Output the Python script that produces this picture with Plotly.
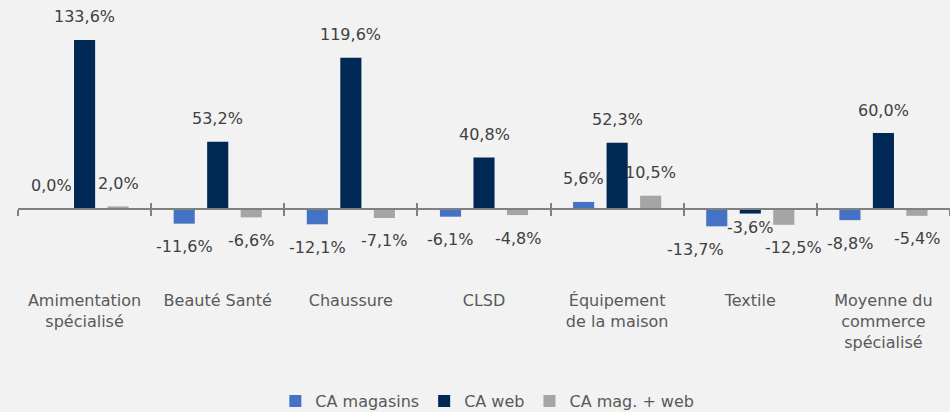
import plotly.graph_objects as go

categories = ["Amimentation<br>spécialisé", "Beauté Santé", "Chaussure", "CLSD",
              "Équipement<br>de la maison", "Textile", "Moyenne du<br>commerce<br>spécialisé"]
series_names = ["CA magasins", "CA web", "CA mag. + web"]
ca_magasins = [0.0, -11.6, -12.1, -6.1, 5.6, -13.7, -8.8]
ca_web = [133.6, 53.2, 119.6, 40.8, 52.3, -3.6, 60.0]
ca_mag_web = [2.0, -6.6, -7.1, -4.8, 10.5, -12.5, -5.4]
colors = ["#4472C4", "#002855", "#A5A5A5"]

series = [ca_magasins, ca_web, ca_mag_web]

# manual label nudges (series index, category index) -> (dx, dy) in px
label_nudge = {(0, 5): (-21, 0), (1, 5): (0, 9), (2, 5): (10, 0)}

W, H = 950, 412
ML, MR, MT, MB = 18, 0, 10, 129
ymin, ymax = -58.5, 157.3
n = len(categories)

fig = go.Figure()
for name, vals, col in zip(series_names, series, colors):
    fig.add_trace(go.Bar(x=categories, y=vals, name=name, marker_color=col,
                         marker_line_width=0, hoverinfo="skip"))

# helper traces so the zero-level axes (line + boundary ticks) get drawn
idx = list(range(n))
for ax in ("x2", "x3"):
    fig.add_trace(go.Scatter(x=idx, y=[0] * n, xaxis=ax, yaxis="y",
                             mode="lines", line=dict(width=0), opacity=0,
                             showlegend=False, hoverinfo="skip"))

cat_px = (W - ML - MR) / n
bargap = 0.245
slot = cat_px * (1 - bargap) / 3

annotations = []
for si, vals in enumerate(series):
    for ci, (c, v) in enumerate(zip(categories, vals)):
        txt = f"{v:.1f}%".replace(".", ",")
        dx, dy = label_nudge.get((si, ci), (0, 0))
        annotations.append(dict(
            x=c, y=v, xref="x", yref="y", text=txt, showarrow=False,
            xshift=(si - 1) * slot + dx, yshift=(23 if v >= 0 else -23) + dy,
            yanchor="middle", xanchor="center",
            font=dict(family="DejaVu Sans", size=16, color="#404040")))

zero_pos = (0 - ymin) / (ymax - ymin)
bounds = [i - 0.5 for i in range(n + 1)]

axis_common = dict(overlaying="x", anchor="free", position=zero_pos, type="linear",
                   range=[-0.5, n - 0.5], tickmode="array", tickvals=bounds,
                   showticklabels=False, showgrid=False, zeroline=False,
                   tickcolor="#808080", tickwidth=1.5, ticklen=6)

fig.update_layout(
    width=W, height=H,
    margin=dict(l=ML, r=MR, t=MT, b=MB, autoexpand=False),
    paper_bgcolor="#F2F2F2", plot_bgcolor="#F2F2F2",
    barmode="group", bargap=bargap, bargroupgap=0.37,
    font=dict(family="DejaVu Sans", size=16, color="#595959"),
    showlegend=True,
    legend=dict(orientation="h", x=0.513, xanchor="center", xref="container",
                y=(H - 401) / H, yanchor="middle", yref="container",
                font=dict(size=16, color="#595959"), itemwidth=30,
                bgcolor="rgba(0,0,0,0)"),
    xaxis=dict(showline=False, ticks="", showgrid=False, zeroline=False,
               ticklabelstandoff=6, tickfont=dict(size=16, color="#595959")),
    yaxis=dict(range=[ymin, ymax], showgrid=False, zeroline=False,
               showticklabels=False, ticks=""),
    xaxis2=dict(axis_common, showline=True, linecolor="#808080", linewidth=2, ticks="outside"),
    xaxis3=dict(axis_common, showline=False, ticks="inside"),
    annotations=annotations,
    hovermode=False,
)

fig.write_html("out.html", config={"displayModeBar": False},
               post_script="document.body.style.margin='0px';")
